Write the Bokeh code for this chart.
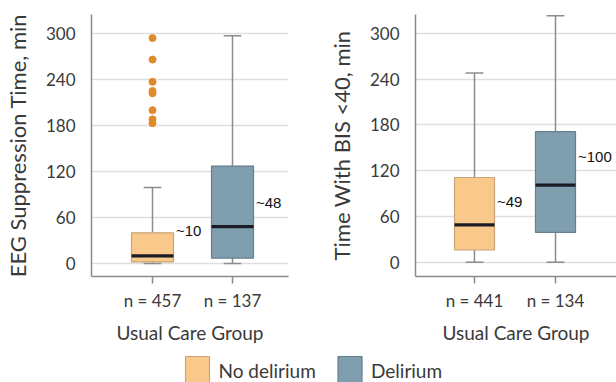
from bokeh.plotting import figure
from bokeh.layouts import column, row
from bokeh.models import Range1d, FixedTicker
from bokeh.core.properties import value
from bokeh.embed import file_html
from bokeh.resources import INLINE

# ---------------- data ----------------
groups = ["No delirium", "Delirium"]
positions = [1, 2]

eeg_n = [457, 137]
eeg_lo = [0, 0]
eeg_q1 = [2, 7]
eeg_med = [10, 48]
eeg_q3 = [40, 127]
eeg_hi = [99, 297]
eeg_outliers_nodel = [294, 266, 237, 225, 222, 200, 188, 183]
eeg_labels = ["~10", "~48"]

bis_n = [441, 134]
bis_lo = [0, 0]
bis_q1 = [16, 39]
bis_med = [49, 101]
bis_q3 = [111, 171]
bis_hi = [248, 323]
bis_labels = ["~49", "~100"]

y_ticks = [0, 60, 120, 180, 240, 300]

# ---------------- style ----------------
FONT = "Lato"
TXT = "#3a3a3a"
FILLS = ["#F9C98B", "#7F9FAF"]
EDGES = ["#C9A478", "#667F8C"]
WHISK = "#8c8c8c"
MED = "#1b1b26"
OUT = "#E08A2C"


def make_panel(width, height, xr, yr, n, lo, q1, med, q3, hi, labels, label_y,
               ylabel, borders, box_w, outliers=None):
    p = figure(width=width, height=height, output_backend="svg",
               toolbar_location=None, x_range=Range1d(*xr), y_range=Range1d(*yr),
               min_border_left=borders[0], min_border_right=borders[1],
               min_border_top=borders[2], min_border_bottom=borders[3])
    p.outline_line_color = None
    p.xgrid.grid_line_color = None
    p.ygrid.grid_line_color = "#dedede"
    p.ygrid.grid_line_width = 1.5
    p.ygrid.ticker = FixedTicker(ticks=y_ticks)

    p.yaxis.ticker = FixedTicker(ticks=y_ticks)
    p.xaxis.ticker = FixedTicker(ticks=positions)
    p.xaxis.major_label_overrides = {pos: "n = %d" % v for pos, v in zip(positions, n)}
    for ax in (p.xaxis[0], p.yaxis[0]):
        ax.axis_line_color = "#8a8a8a"
        ax.axis_line_width = 1.5
        ax.major_tick_line_color = "#8a8a8a"
        ax.major_tick_line_width = 1.5
        ax.minor_tick_line_color = None
        ax.major_label_text_font = FONT
        ax.major_label_text_font_size = "17px"
        ax.major_label_text_color = TXT
        ax.axis_label_text_font = FONT
        ax.axis_label_text_font_size = "19px"
        ax.axis_label_text_font_style = "normal"
        ax.axis_label_text_color = TXT
    p.yaxis.major_tick_out = 0
    p.yaxis.major_tick_in = 0
    p.yaxis.major_label_standoff = 16
    p.yaxis.axis_label = ylabel
    p.yaxis.axis_label_text_font_size = "22px"
    p.yaxis.axis_label_standoff = 12
    p.xaxis.major_tick_out = 7
    p.xaxis.major_tick_in = 0
    p.xaxis.major_label_standoff = 6
    p.xaxis.axis_label = "Usual Care Group"
    p.xaxis.axis_label_standoff = 7

    cap = 0.22
    # whiskers
    p.segment(x0=positions, y0=lo, x1=positions, y1=q1, line_color=WHISK, line_width=1.5)
    p.segment(x0=positions, y0=q3, x1=positions, y1=hi, line_color=WHISK, line_width=1.5)
    p.segment(x0=[x - cap / 2 for x in positions], y0=lo,
              x1=[x + cap / 2 for x in positions], y1=lo, line_color=WHISK, line_width=1.5)
    p.segment(x0=[x - cap / 2 for x in positions], y0=hi,
              x1=[x + cap / 2 for x in positions], y1=hi, line_color=WHISK, line_width=1.5)
    # boxes
    p.vbar(x=positions, width=box_w, bottom=q1, top=q3, fill_color=FILLS,
           line_color=EDGES, line_width=1.2)
    # medians
    p.segment(x0=[x - box_w / 2 for x in positions], y0=med,
              x1=[x + box_w / 2 for x in positions], y1=med, line_color=MED, line_width=3.2)
    if outliers:
        p.scatter(x=[positions[0]] * len(outliers), y=outliers, size=7,
                  fill_color=OUT, line_color=OUT)
    p.text(x=[x + box_w / 2 + 0.03 for x in positions], y=label_y, text=labels,
           text_font=value("Liberation Sans"), text_font_size="15px",
           text_color="#111111", text_baseline="middle", text_align="left")
    return p


p1 = make_panel(310, 350, (0.2375, 2.7), (-17, 324.8), eeg_n, eeg_lo, eeg_q1, eeg_med,
                eeg_q3, eeg_hi, eeg_labels, [43, 80], "EEG Suppression Time, min",
                (91, 22, 14, 74), 0.525, eeg_outliers_nodel)
p2 = make_panel(306, 350, (0.2716, 2.753), (-18.7, 324.5), bis_n, bis_lo, bis_q1, bis_med,
                bis_q3, bis_hi, bis_labels, [80, 139], "Time With BIS <40, min",
                (105, 0, 14, 74), 0.494)

# legend strip
leg = figure(width=616, height=32, output_backend="svg", toolbar_location=None,
             x_range=Range1d(0, 616), y_range=Range1d(0, 32),
             min_border=0)
leg.outline_line_color = None
leg.axis.visible = False
leg.grid.grid_line_color = None
sw_x = [197, 349.5]
leg.rect(x=sw_x, y=[13, 13], width=24, height=26, fill_color=FILLS,
         line_color=EDGES, line_width=1.2)
leg.text(x=[x + 21 for x in sw_x], y=[12, 12], text=groups, text_font=value(FONT),
         text_font_size="19px", text_color=TXT, text_baseline="middle")

layout = column(row(p1, p2), leg)

open("out.html", "w").write(file_html(layout, INLINE))
